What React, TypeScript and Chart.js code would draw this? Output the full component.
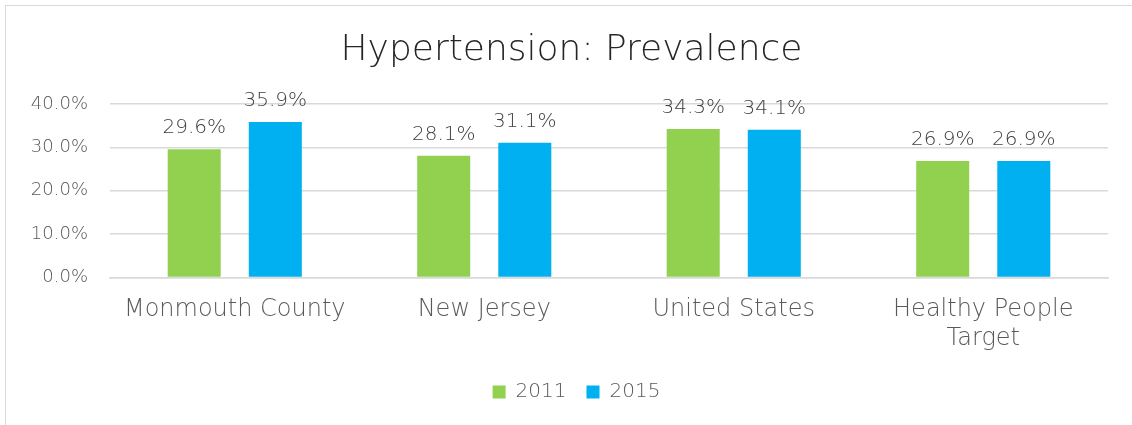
import React, { useEffect, useRef } from "react";
import { Chart, registerables } from "chart.js";

Chart.register(...registerables);

const categories: (string | string[])[] = [
  "Monmouth County",
  "New Jersey",
  "United States",
  ["Healthy People", "Target"],
];
const series2011 = [29.6, 28.1, 34.3, 26.9];
const series2015 = [35.9, 31.1, 34.1, 26.9];
const yTicks = [0, 10, 20, 30, 40];

const FONT = "'DejaVu Sans', sans-serif";
const W = 200;

const valueLabels = {
  id: "valueLabels",
  afterDatasetsDraw(chart: any) {
    const ctx = chart.ctx;
    ctx.save();
    ctx.font = `${W} 20px ${FONT}`;
    ctx.fillStyle = "#404040";
    ctx.textAlign = "center";
    ctx.textBaseline = "alphabetic";
    chart.data.datasets.forEach((ds: any, i: number) => {
      const meta = chart.getDatasetMeta(i);
      meta.data.forEach((bar: any, j: number) => {
        ctx.fillText(ds.data[j].toFixed(1) + "%", bar.x, bar.y - 16);
      });
    });
    ctx.restore();
  },
};

// Center legend and title on the whole frame rather than the padded area
const recenter = {
  id: "recenter",
  beforeDraw(chart: any) {
    const lg = chart.legend;
    if (lg && !lg._shifted) {
      lg.left += 17.5;
      lg.right += 17.5;
      lg.top -= 1;
      lg.bottom -= 1;
      if (lg.legendHitBoxes) {
        lg.legendHitBoxes.forEach((hb: any) => {
          hb.left += 17.5;
          hb.top -= 1;
        });
      }
      lg._shifted = true;
    }
    const tb = chart.titleBlock;
    if (tb && !tb._shifted) {
      tb.left += 12.5;
      tb.right += 12.5;
      tb._shifted = true;
    }
  },
};

export default function App() {
  const ref = useRef<HTMLCanvasElement>(null);
  useEffect(() => {
    document.body.style.margin = "0";
    document.body.style.overflow = "hidden";
    const chart = new Chart(ref.current!, {
      type: "bar",
      data: {
        labels: categories,
        datasets: [
          {
            label: "2011",
            data: series2011,
            backgroundColor: "#92D050",
            barPercentage: 0.654,
            categoryPercentage: 0.65,
          },
          {
            label: "2015",
            data: series2015,
            backgroundColor: "#00B0F0",
            barPercentage: 0.654,
            categoryPercentage: 0.65,
          },
        ],
      },
      options: {
        animation: false,
        responsive: false,
        layout: { padding: { left: 10, right: 24, top: 19, bottom: 12 } },
        scales: {
          x: {
            grid: { display: false },
            border: { color: "#d9d9d9", width: 1.5 },
            ticks: {
              color: "#595959",
              font: { family: FONT, size: 24, weight: W as any, lineHeight: 1.2 },
              padding: 10,
              maxRotation: 0,
            },
          },
          y: {
            min: 0,
            max: 40,
            afterBuildTicks: (axis: any) => {
              axis.ticks = yTicks.map((v) => ({ value: v }));
            },
            afterFit: (axis: any) => {
              axis.width = 100;
            },
            grid: { color: "#d9d9d9", lineWidth: 1.5, drawTicks: false },
            border: { display: false },
            ticks: {
              color: "#595959",
              font: { family: FONT, size: 18, weight: W as any },
              padding: 22,
              callback: (v: any) => Number(v).toFixed(1) + "%",
            },
          },
        },
        plugins: {
          title: {
            display: true,
            text: "Hypertension: Prevalence",
            color: "#262626",
            font: { family: FONT, size: 36, weight: W as any },
            padding: { top: 10, bottom: 32 },
          },
          legend: {
            position: "bottom",
            labels: {
              color: "#595959",
              font: { family: FONT, size: 20, weight: W as any },
              boxWidth: 13,
              boxHeight: 13,
              padding: 20,
            },
          },
          tooltip: { enabled: false },
        },
      },
      plugins: [valueLabels, recenter],
    });
    return () => chart.destroy();
  }, []);
  return (
    <div style={{ position: "relative", width: 1132, height: 425, overflow: "hidden" }}>
      <div
        style={{
          position: "absolute",
          left: 5,
          top: 5,
          width: 1140,
          height: 440,
          border: "1.5px solid #d9d9d9",
        }}
      />
      <canvas ref={ref} width={1132} height={425} style={{ position: "absolute", left: 0, top: 0 }} />
    </div>
  );
}
